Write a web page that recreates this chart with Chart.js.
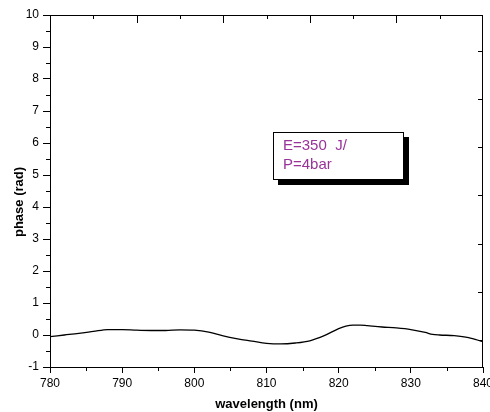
<!DOCTYPE html>
<html>
<head>
<meta charset="utf-8">
<script src="https://cdn.jsdelivr.net/npm/chart.js@4"></script>
<style>
  body { margin: 0; background: #fff; }
</style>
</head>
<body>
<canvas id="phaseChart" width="490" height="412"></canvas>
<script>
// values
const wavelength = [780, 782, 784, 786, 788, 790, 792, 794, 796, 798, 800, 802, 804, 806, 808, 810, 812, 814, 816, 818, 820, 821, 822, 823, 824, 826, 828, 830, 832, 833, 834, 836, 838, 840];
const phase = [-0.05, 0.0, 0.05, 0.11, 0.17, 0.17, 0.15, 0.14, 0.14, 0.16, 0.15, 0.09, -0.03, -0.12, -0.19, -0.26, -0.28, -0.25, -0.18, -0.02, 0.2, 0.28, 0.31, 0.31, 0.29, 0.25, 0.22, 0.17, 0.08, 0.02, 0.0, -0.02, -0.08, -0.21];
const legendLines = ['E=350  J/', 'P=4bar'];

const FONT = 'Liberation Sans, Arial, sans-serif';

let points = wavelength.map((w, i) => ({x: w, y: phase[i]}))

// frame, minor ticks, inward ticks on top/right, and the text box
const decorations = {
    id: 'decorations',
    afterDraw(chart) {
        const ctx = chart.ctx
        const a = chart.chartArea
        const xs = chart.scales.x
        const ys = chart.scales.y
        ctx.save()
        ctx.strokeStyle = '#000'
        ctx.lineWidth = 1
        ctx.beginPath()
        // top + right border
        ctx.moveTo(a.left, a.top + 0.5)
        ctx.lineTo(a.right, a.top + 0.5)
        ctx.moveTo(a.right - 0.5, a.top)
        ctx.lineTo(a.right - 0.5, a.bottom)
        // minor ticks left
        for (let v = -0.5; v < 10; v += 1) {
            let y = Math.round(ys.getPixelForValue(v)) + 0.5
            ctx.moveTo(a.left, y)
            ctx.lineTo(a.left - 4, y)
        }
        // minor ticks bottom
        for (let v = 785; v < 840; v += 10) {
            let x = Math.round(xs.getPixelForValue(v)) + 0.5
            ctx.moveTo(x, a.bottom)
            ctx.lineTo(x, a.bottom + 4)
        }
        // top axis ticks (inward)
        for (let i = 1; i < 10; i++) {
            let x = Math.round(a.left + (a.right - a.left) * i / 10) + 0.5
            ctx.moveTo(x, a.top)
            ctx.lineTo(x, a.top + (i % 2 == 0 ? 8 : 4))
        }
        // right axis ticks (inward)
        for (let i = 0; i < 7; i++) {
            let y = Math.round(a.bottom - 27 - 48.2 * i) + 0.5
            ctx.moveTo(a.right, y)
            ctx.lineTo(a.right - 5, y)
        }
        ctx.stroke()

        // y title
        ctx.fillStyle = '#000'
        ctx.font = 'bold 13px ' + FONT
        ctx.translate(19, 202)
        ctx.rotate(-Math.PI / 2)
        ctx.textAlign = 'center'
        ctx.textBaseline = 'middle'
        ctx.fillText('phase (rad)', 0, 0)
        ctx.setTransform(1, 0, 0, 1, 0, 0)

        // text box with shadow
        ctx.fillStyle = '#000'
        ctx.fillRect(278, 137, 131, 48)
        ctx.fillStyle = '#fff'
        ctx.fillRect(273, 132, 131, 48)
        ctx.strokeRect(273.5, 132.5, 130, 47)
        ctx.fillStyle = '#993399'
        ctx.font = '15px ' + FONT
        ctx.textAlign = 'left'
        ctx.textBaseline = 'middle'
        ctx.fillText(legendLines[0], 283, 146)
        ctx.fillText(legendLines[1], 283, 165)
        ctx.restore()
    }
}

new Chart('phaseChart', {
    type: 'line',
    data: {
        datasets: [{
            data: points,
            borderColor: '#000',
            borderWidth: 1.3,
            pointRadius: 0,
            tension: 0.4,
            cubicInterpolationMode: 'monotone',
            fill: false
        }]
    },
    options: {
        responsive: false,
        animation: false,
        layout: {
            padding: {top: 15, right: 7, left: 0, bottom: 0}
        },
        plugins: {
            legend: {display: false},
            tooltip: {enabled: false}
        },
        scales: {
            x: {
                type: 'linear',
                min: 780,
                max: 840,
                ticks: {
                    stepSize: 10,
                    color: '#000',
                    padding: 3,
                    maxRotation: 0,
                    font: {family: FONT, size: 12}
                },
                grid: {
                    drawOnChartArea: false,
                    tickLength: 6,
                    color: '#000',
                    tickColor: '#000'
                },
                border: {color: '#000', width: 1},
                title: {
                    display: true,
                    text: 'wavelength (nm)',
                    color: '#000',
                    padding: {top: 0, bottom: 0},
                    font: {family: FONT, size: 13, weight: 'bold'}
                },
                afterFit(scale) {
                    scale.height = 45
                    scale.paddingLeft = 0
                    scale.paddingRight = 0
                }
            },
            y: {
                min: -1,
                max: 10,
                ticks: {
                    stepSize: 1,
                    color: '#000',
                    padding: 4,
                    font: {family: FONT, size: 12}
                },
                grid: {
                    drawOnChartArea: false,
                    tickLength: 7,
                    color: '#000',
                    tickColor: '#000'
                },
                border: {color: '#000', width: 1},
                afterFit(scale) {
                    scale.width = 50
                    scale.paddingTop = 0
                    scale.paddingBottom = 0
                }
            }
        }
    },
    plugins: [decorations]
})
</script>
</body>
</html>
